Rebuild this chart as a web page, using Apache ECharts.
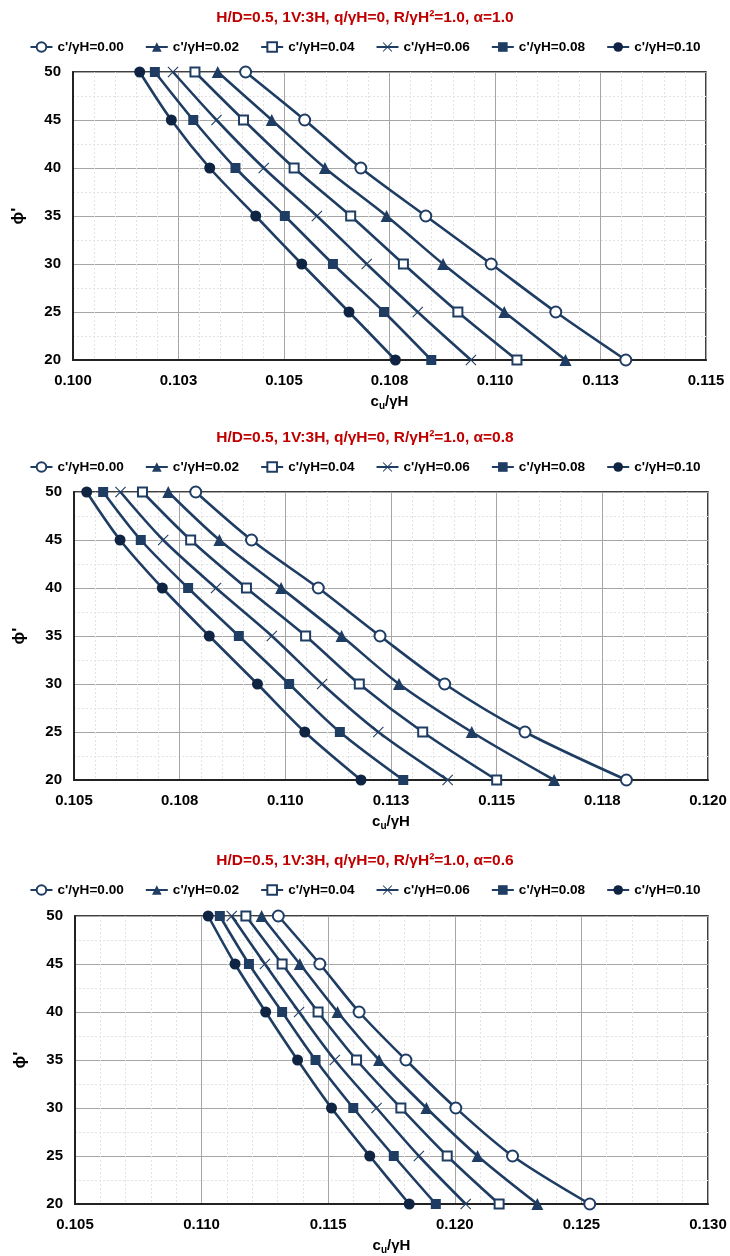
<!DOCTYPE html>
<html><head><meta charset="utf-8">
<script src="https://cdn.jsdelivr.net/npm/echarts@6/dist/echarts.min.js"></script>
<style>html,body{margin:0;padding:0;background:#fff}#c{width:730px;height:1256px}</style>
</head><body><div id="c"></div>
<script>
// ---- data ----
const phi = [50, 45, 40, 35, 30, 25, 20];
const seriesNames = ["c'/γH=0.00", "c'/γH=0.02", "c'/γH=0.04", "c'/γH=0.06", "c'/γH=0.08", "c'/γH=0.10"];
const titles = [
  "H/D=0.5, 1V:3H, q/γH=0, R/γH²=1.0, α=1.0",
  "H/D=0.5, 1V:3H, q/γH=0, R/γH²=1.0, α=0.8",
  "H/D=0.5, 1V:3H, q/γH=0, R/γH²=1.0, α=0.6"
];
// alpha = 1.0
const a10_c000 = [0.10409, 0.10549, 0.10682, 0.10836, 0.10991, 0.11144, 0.11310];
const a10_c002 = [0.10343, 0.10471, 0.10597, 0.10743, 0.10877, 0.11022, 0.11167];
const a10_c004 = [0.10289, 0.10404, 0.10524, 0.10658, 0.10783, 0.10912, 0.11052];
const a10_c006 = [0.10237, 0.10340, 0.10452, 0.10578, 0.10696, 0.10817, 0.10943];
const a10_c008 = [0.10194, 0.10285, 0.10385, 0.10502, 0.10616, 0.10737, 0.10849];
const a10_c010 = [0.10158, 0.10233, 0.10324, 0.10433, 0.10542, 0.10654, 0.10764];
// alpha = 0.8
const a08_c000 = [0.10788, 0.10920, 0.11078, 0.11224, 0.11377, 0.11567, 0.11807];
const a08_c002 = [0.10723, 0.10844, 0.10990, 0.11133, 0.11269, 0.11441, 0.11636];
const a08_c004 = [0.10662, 0.10776, 0.10908, 0.11048, 0.11175, 0.11325, 0.11500];
const a08_c006 = [0.10610, 0.10711, 0.10836, 0.10968, 0.11087, 0.11220, 0.11384];
const a08_c008 = [0.10569, 0.10658, 0.10770, 0.10890, 0.11009, 0.11129, 0.11279];
const a08_c010 = [0.10530, 0.10609, 0.10709, 0.10820, 0.10934, 0.11046, 0.11179];
// alpha = 0.6
const a06_c000 = [0.11303, 0.11467, 0.11622, 0.11807, 0.12004, 0.12228, 0.12533];
const a06_c002 = [0.11237, 0.11388, 0.11537, 0.11701, 0.11888, 0.12090, 0.12326];
const a06_c004 = [0.11175, 0.11318, 0.11460, 0.11612, 0.11787, 0.11970, 0.12175];
const a06_c006 = [0.11119, 0.11250, 0.11385, 0.11526, 0.11691, 0.11858, 0.12043];
const a06_c008 = [0.11072, 0.11187, 0.11318, 0.11450, 0.11599, 0.11759, 0.11925];
const a06_c010 = [0.11026, 0.11132, 0.11253, 0.11379, 0.11513, 0.11664, 0.11820];
// tick labels
const xTicks1 = ['0.100', '0.103', '0.105', '0.108', '0.110', '0.113', '0.115'];
const xTicks2 = ['0.105', '0.108', '0.110', '0.113', '0.115', '0.118', '0.120'];
const xTicks3 = ['0.105', '0.110', '0.115', '0.120', '0.125', '0.130'];
const yTicks = ['20', '25', '30', '35', '40', '45', '50'];

// ---- chart ----
const FONT = 'Liberation Sans';
const LINE = '#1F3D63';
const DARK = '#0F2443';
const crossPath = 'path://M0,0.7L0.7,0L5,4.3L9.3,0L10,0.7L5.7,5L10,9.3L9.3,10L5,5.7L0.7,10L0,9.3L4.3,5Z';
const markers = [
  {symbol: 'emptyCircle', size: 11, color: LINE, bw: 2.2},
  {symbol: 'triangle', size: 12, color: LINE, bw: 0},
  {symbol: 'emptyRect', size: 9, color: LINE, bw: 2.2},
  {symbol: crossPath, size: 11, color: LINE, bw: 0},
  {symbol: 'rect', size: 10, color: LINE, bw: 0},
  {symbol: 'circle', size: 11, color: DARK, bw: 0}
];
const panels = [
  {data: [a10_c000, a10_c002, a10_c004, a10_c006, a10_c008, a10_c010], min: 0.100, max: 0.115, interval: 0.0025, ticks: xTicks1,
   top: 72, left: 73, right: 24, titleTop: 5, legendTop: 35},
  {data: [a08_c000, a08_c002, a08_c004, a08_c006, a08_c008, a08_c010], min: 0.105, max: 0.120, interval: 0.0025, ticks: xTicks2,
   top: 492, left: 74, right: 22, titleTop: 425, legendTop: 455},
  {data: [a06_c000, a06_c002, a06_c004, a06_c006, a06_c008, a06_c010], min: 0.105, max: 0.130, interval: 0.005, ticks: xTicks3,
   top: 916, left: 75, right: 22, titleTop: 848, legendTop: 878}
];

const option = {
  backgroundColor: '#fff',
  animation: false,
  title: [], legend: [], grid: [], xAxis: [], yAxis: [], series: []
};
panels.forEach((p, gi) => {
  option.title.push({
    text: titles[gi], left: 'center', top: p.titleTop,
    textStyle: {color: '#C00000', fontFamily: FONT, fontWeight: 'bold', fontSize: 15.5}
  });
  option.legend.push({
    data: seriesNames, top: p.legendTop, left: 'center', itemWidth: 22, itemHeight: 12, itemGap: 21,
    textStyle: {color: '#000', fontFamily: FONT, fontWeight: 'bold', fontSize: 13.6},
    selectedMode: false
  });
  option.grid.push({left: p.left, right: p.right, top: p.top, height: 288, show: true, borderColor: '#000', borderWidth: 1.5, containLabel: false});
  option.xAxis.push({
    type: 'value', gridIndex: gi, min: p.min, max: p.max, interval: p.interval,
    name: '{a|c}{s|u}{a|/γH}', nameLocation: 'middle', nameGap: 32,
    nameTextStyle: {rich: {a: {fontFamily: FONT, fontWeight: 'bold', fontSize: 15, color: '#000'},
                           s: {fontFamily: FONT, fontWeight: 'bold', fontSize: 10, color: '#000', verticalAlign: 'bottom', padding: [9, 0, 0, 0]}}},
    axisLine: {show: true, onZero: false, lineStyle: {color: '#222', width: 2}},
    axisTick: {show: false},
    axisLabel: {margin: 13, fontFamily: FONT, fontWeight: 'bold', fontSize: 15, color: '#000',
      formatter: (v, i) => p.ticks[Math.round((v - p.min) / p.interval)]},
    splitLine: {show: true, lineStyle: {color: '#A6A6A6', width: 1}},
    minorTick: {show: false, splitNumber: 5},
    minorSplitLine: {show: true, lineStyle: {color: '#E3E3E3', width: 1, type: [2, 2]}}
  });
  option.yAxis.push({
    type: 'value', gridIndex: gi, min: 20, max: 50, interval: 5,
    name: "ϕ'", nameLocation: 'middle', nameGap: 46, nameRotate: 90,
    nameTextStyle: {fontFamily: FONT, fontWeight: 'bold', fontSize: 17, color: '#000'},
    axisLine: {show: true, onZero: false, lineStyle: {color: '#222', width: 2}},
    axisTick: {show: false},
    axisLabel: {margin: 12, fontFamily: FONT, fontWeight: 'bold', fontSize: 15, color: '#000',
      formatter: (v) => yTicks[Math.round((v - 20) / 5)]},
    splitLine: {show: true, lineStyle: {color: '#A6A6A6', width: 1}},
    minorTick: {show: false, splitNumber: 2},
    minorSplitLine: {show: true, lineStyle: {color: '#E3E3E3', width: 1, type: [2, 2]}}
  });
  p.data.forEach((arr, si) => {
    const m = markers[si];
    option.series.push({
      type: 'line', name: seriesNames[si], xAxisIndex: gi, yAxisIndex: gi,
      data: arr.map((x, k) => [x, phi[k]]),
      smooth: 0.3,
      symbol: m.symbol, symbolSize: m.size, showAllSymbol: true,
      lineStyle: {color: LINE, width: 2.6},
      itemStyle: {color: m.color, borderColor: m.color, borderWidth: m.bw},
      clip: false, z: 3
    });
  });
});
const chart = echarts.init(document.getElementById('c'), null, {renderer: 'canvas'});
chart.setOption(option);
</script></body></html>
